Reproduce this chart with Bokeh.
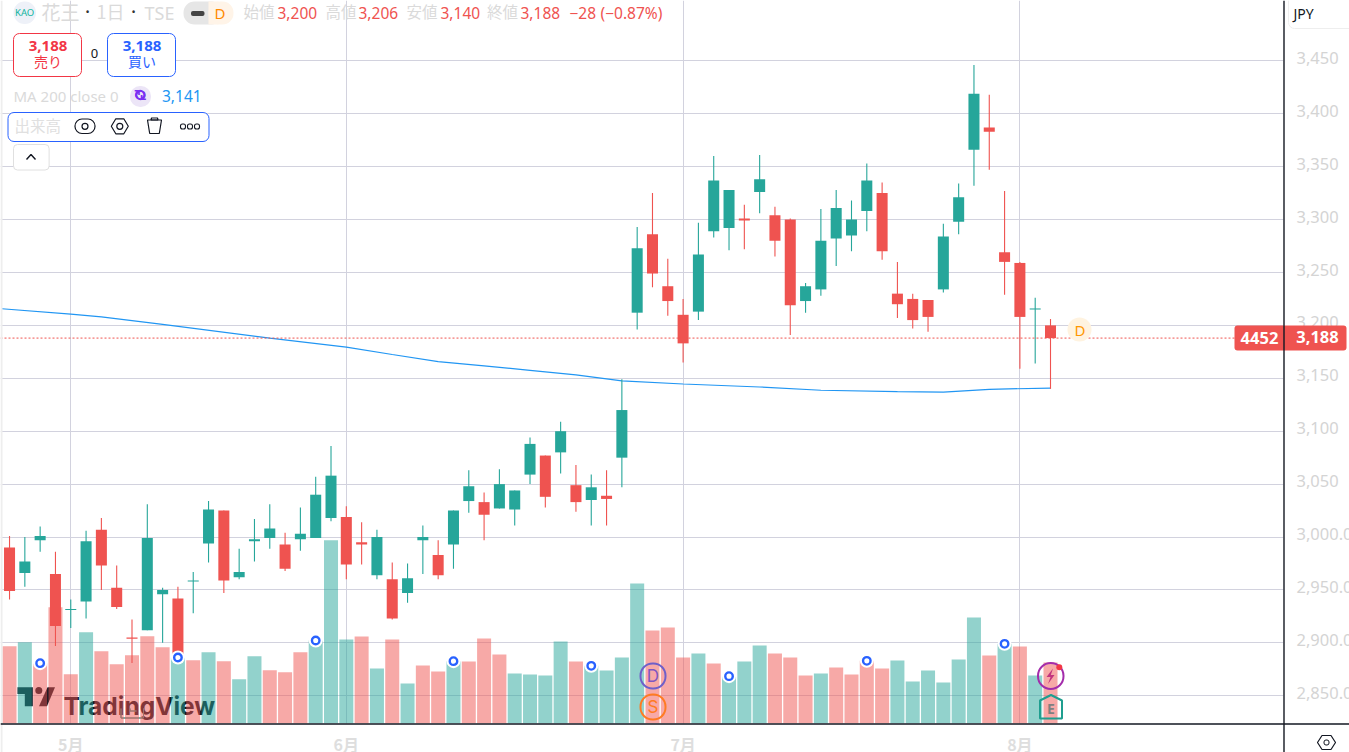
from bokeh.plotting import figure
from bokeh.embed import file_html
from bokeh.layouts import column
from bokeh.resources import INLINE
from bokeh.models import (Range1d, FixedTicker, Span, Label, BoxAnnotation,
                          PolyAnnotation, ColumnDataSource)

# ---------- data ----------
opens  = [2990,2966,2997,2965,2931,2939,3007,2952,2905,2912,2946,2942,2958,2994,3025,2962,2996,2999,2993,2998,2999,3018,
          3019,2995,2964,2960,2947,2997,2983,2993,3034,3033,3027,3026,3059,3077,3080,3049,3035,3039,3075,
          3212,3286,3237,3210,3213,3289,3292,3301,3326,3304,3300,3223,3234,3282,3285,3308,3325,3230,3225,3224,3234,3298,3366,3387,3269,3259,3215,3200]
highs  = [3001,3000,3010,2986,2941,3006,3018,2973,2922,3031,2952,2953,2967,3034,3025,2989,3017,3031,3004,3028,3057,3086,
          3029,3014,3007,2976,2975,3011,2997,3025,3063,3042,3064,3044,3094,3077,3109,3068,3059,3063,3149,
          3293,3325,3263,3225,3297,3360,3328,3314,3361,3312,3301,3240,3310,3328,3318,3353,3335,3260,3230,3224,3296,3334,3446,3418,3327,3260,3226,3206]
lows   = [2941,2953,2986,2897,2914,2923,2950,2932,2881,2912,2900,2880,2928,2976,2947,2960,2977,2989,2968,2987,2999,3015,
          2960,2974,2960,2922,2938,2965,2960,2970,3023,2997,3027,3011,3050,3028,3060,3024,3011,3011,3047,
          3196,3236,3209,3165,3205,3283,3271,3272,3306,3265,3191,3212,3228,3256,3270,3289,3262,3207,3197,3194,3231,3286,3332,3347,3229,3159,3164,3140]
closes = [2949,2977,3001,2916,2932,2996,2973,2934,2904,2999,2950,2887,2959,3026,2959,2967,2998,3008,2970,3003,3040,3058,
          2974,2993,3000,2923,2961,3000,2964,3025,3048,3021,3050,3044,3088,3038,3100,3033,3047,3036,3120,
          3273,3249,3223,3183,3267,3337,3328,3299,3338,3280,3219,3237,3280,3311,3300,3337,3270,3220,3205,3208,3284,3321,3419,3383,3260,3208,3216,3188]
volumes = [464,488,362,698,296,548,434,356,410,524,458,396,380,428,374,266,404,320,308,428,498,1100,
           504,522,330,504,240,348,312,374,372,510,414,300,294,288,492,372,346,318,396,840,558,576,396,
           420,360,284,372,468,420,396,288,300,336,294,376,330,378,252,318,246,384,636,408,478,462,288,366]
vol_dir = list("RGRRRGRRRRRGRGRGGRRRGG" "GRGRGRRGRRRGGGGRGGGGRRR" "GRGGGRRRGRRRRGGGGGGRGRGR")
ma_index = [-0.5,4,6,10,17,22,25,28,31,34,37,40,44,49,53,58,61,64,68]
ma_value = [3215.7,3210.7,3208,3201,3188,3179.5,3172.5,3165.7,3161.8,3157.5,3153.3,3147.5,3144.6,3141.8,3138.7,3137.4,3137,3139.6,3140.8]
marker_index = [2,11,20,29,38,47,56,65]
price_ticks = [2850,2900,2950,3000,3050,3100,3150,3200,3250,3300,3350,3400,3450]
price_labels = ["2,850.0","2,900.0","2,950.0","3,000.0","3,050","3,100","3,150","3,200","3,250","3,300","3,350","3,400","3,450"]
month_ticks = [4,22,44,66]
month_labels = ["5月","6月","7月","8月"]
last_price = 3188

UP, DOWN = "#26a69a", "#ef5350"
GRID = "#d2d2de"
PALE = "#dadada"
SANS = "Noto Sans"
CJK = "Noto Sans CJK JP"
W, H, FH = 1349, 752, 723
LABEL_LIFT = 2.8  # the reference's price labels sit about 3px above their gridlines

idx = list(range(len(opens)))
src = ColumnDataSource(dict(
    i=idx, o=opens, h=highs, l=lows, c=closes,
    top=[max(a, b) for a, b in zip(opens, closes)],
    bot=[min(a, b) for a, b in zip(opens, closes)],
    col=[UP if c >= o else DOWN for o, c in zip(opens, closes)],
    vol=volumes,
    vcol=[UP if d == "G" else DOWN for d in vol_dir],
))

p = figure(width=W, height=H, frame_width=1283, frame_height=FH, output_backend="svg", toolbar_location=None,
           y_axis_location="right", x_range=Range1d(-0.59, 83.22), y_range=Range1d(2823.8, 3507),
           min_border_left=0, min_border_top=0, min_border_bottom=0, min_border_right=0,
           outline_line_color=None)
p.extra_y_ranges = {"vol": Range1d(0, FH*6)}

# transparent overlay for the things that lie outside the plot frame (price tag, legends, axis edges)
q = figure(width=W, height=H, frame_width=W, frame_height=H, output_backend="svg", toolbar_location=None,
           x_axis_type=None, y_axis_type=None, x_range=Range1d(0, W), y_range=Range1d(0, H),
           min_border_left=0, min_border_top=0, min_border_bottom=0, min_border_right=0,
           outline_line_color=None, background_fill_color=None, border_fill_color=None,
           styles={"position": "absolute", "left": "0px", "top": "0px"})

ax = p.yaxis[0]
ax.ticker = FixedTicker(ticks=[t + LABEL_LIFT for t in price_ticks])
ax.major_label_overrides = {float(t + LABEL_LIFT): v for t, v in zip(price_ticks, price_labels)}
ax.major_tick_line_color = None
ax.minor_tick_line_color = None
ax.axis_line_color = None
ax.major_label_standoff = 7
ax.major_label_text_font = SANS
ax.major_label_text_font_size = "16.5px"
ax.major_label_text_color = "#d4d4d4"

xa = p.xaxis[0]
xa.ticker = FixedTicker(ticks=month_ticks)
xa.major_label_overrides = {k: v for k, v in zip(month_ticks, month_labels)}
xa.major_tick_line_color = None
xa.minor_tick_line_color = None
xa.axis_line_color = None
xa.major_label_standoff = 2
xa.major_label_text_font = CJK
xa.major_label_text_font_size = "16px"
xa.major_label_text_font_style = "bold"
xa.major_label_text_color = "#dedede"

p.xgrid.ticker = FixedTicker(ticks=month_ticks)
p.ygrid.ticker = FixedTicker(ticks=price_ticks)
p.xgrid.grid_line_color = GRID
p.ygrid.grid_line_color = GRID
p.xgrid.grid_line_width = 1
p.ygrid.grid_line_width = 1


def target(level):
    return (p, FH) if level == "underlay" else (q, H)


def box(x0, y0, x1, y1, fill=None, line=None, lw=1, r=0, fa=1.0, level="annotation"):
    f, base = target(level)
    b = BoxAnnotation(left=x0, right=x1, top=base-y0, bottom=base-y1,
                      left_units="screen", right_units="screen", top_units="screen", bottom_units="screen",
                      fill_color=fill, fill_alpha=fa if fill else 0, line_color=line, line_width=lw,
                      line_alpha=1 if line else 0, border_radius=int(round(r)), level=level, editable=False)
    f.add_layout(b)
    return b


def poly(pts, fill=None, line=None, lw=1.0, fa=1.0, level="annotation"):
    f, base = target(level)
    a = PolyAnnotation(xs=[c[0] for c in pts], ys=[base-c[1] for c in pts], xs_units="screen", ys_units="screen",
                       fill_color=fill, fill_alpha=fa if fill else 0, line_color=line, line_width=lw,
                       line_alpha=1 if line else 0, level=level)
    f.add_layout(a)
    return a


def lab(t, x, y, size=15, color=PALE, font=SANS, style="normal", align="left", base="middle", level="annotation", angle=0):
    f, b0 = target(level)
    if base == "middle":
        y -= 2.5 if font == CJK else 1
    l = Label(x=x, y=b0-y, x_units="screen", y_units="screen", text=t, text_font=font,
              text_font_size=f"{size}px", text_color=color, text_font_style=style,
              text_align=align, text_baseline=base, level=level, angle=angle)
    f.add_layout(l)
    return l


# watermark sits under the volume bars
wm = "#131722"
poly([(17, 686.7), (32.3, 686.7), (32.3, 705.7), (24.3, 705.7), (24.3, 693.5), (17, 693.5)], fill=wm, level="underlay")
box(34.8, 686.5, 41.8, 693.5, fill=wm, r=3.5, level="underlay")
poly([(47, 686.7), (54.5, 686.7), (46.5, 705.7), (38.5, 705.7)], fill=wm, level="underlay")
lab("TradingView", 63, 705.7, size=24.5, color=wm, font="Inter", style="bold", base="alphabetic", level="underlay")
poly([(120.5, 708), (120.5, 717.5), (143, 717.5), (143, 708), (143, 717.5), (120.5, 717.5)], line="#4d8f86", lw=1, level="underlay")
poly([(129.5, 708), (129.5, 710.5), (136, 710.5), (129.5, 710.5)], line="#4d8f86", lw=1, level="underlay")

p.vbar(x="i", width=0.915, bottom=0, top="vol", fill_color="vcol", line_color=None, fill_alpha=0.5,
       y_range_name="vol", source=src)
p.add_layout(Span(location=last_price, dimension="width", line_color=DOWN, line_width=1, line_dash="2 2"))
p.line(ma_index, ma_value, line_color="#2196f3", line_width=1.2)
p.segment(x0="i", x1="i", y0="l", y1="h", line_color="col", line_width=1.1, source=src)
p.vbar(x="i", width=0.72, bottom="bot", top="top", fill_color="col", line_color=None, source=src)

# news rings on top of the volume bars
rx = marker_index
ry = [volumes[k] for k in marker_index]
p.scatter(rx, ry, marker="circle", size=14, fill_color="white", line_color=None, y_range_name="vol")
p.scatter(rx, ry, marker="circle", size=7.5, fill_color="white", line_color="#2962ff", line_width=2.4, y_range_name="vol")

# left strip, axis lines
box(0, 0, 2, H, fill="#eeeeee")
box(0, 722.8, W, 724.2, fill="#131722")

# D / S / lightning / E markers
box(640, 663, 665, 688, line="#6f5fc9", lw=2, r=12.5)
lab("D", 652.5, 676.5, size=17, color="#7e57c2", font="Inter", align="center")
box(640, 694, 665, 719, line="#ff7b22", lw=2, r=12.5)
lab("S", 652.5, 707.5, size=17, color="#ff7b22", font="Inter", align="center")
box(1037.5, 662.5, 1063, 688.5, line="#a32cab", lw=2, r=13)
poly([(1052.5, 668), (1046, 676.5), (1050, 676.5), (1047.5, 683.5), (1054, 674.5), (1050.3, 674.5)], fill="#c2357f")
box(1055.8, 663.7, 1061.8, 669.7, fill="#f23645", r=3)
poly([(1039.5, 700), (1050.5, 694.5), (1061.5, 700), (1061.5, 718), (1039.5, 718)], line="#1f9e8f", lw=2)
lab("E", 1050.5, 708.5, size=14, color="#7f8080", font=SANS, style="bold", align="center")

# last price tags
box(1067, 317, 1091, 341, fill="#fff3e0", r=12)
lab("D", 1079.5, 330, size=15, color="#ff9800", align="center")
box(1234, 325, 1346, 350, fill=DOWN, r=3)
lab("4452", 1259, 338, size=16.5, color="white", style="bold", align="center")
lab("3,188", 1317, 337.5, size=16.5, color="white", style="bold", align="center")
box(1282.8, 0, 1284.2, H, fill="#131722")
box(1288, -6, 1356, 28, line="#eeeeee", r=6)
lab("JPY", 1293, 13.5, size=14, color="#131722")

# settings hexagon
hx, hy = 1326, 742
poly([(hx-9, hy), (hx-4.5, hy-7), (hx+4.5, hy-7), (hx+9, hy), (hx+4.5, hy+7), (hx-4.5, hy+7)], line="#131722", lw=1.2)
box(hx-2.5, hy-2.5, hx+2.5, hy+2.5, line="#131722", lw=1, r=2.5)

# header
box(13, 1, 35.5, 23.5, fill="#eef1f8", r=11.2)
lab("KAO", 24.2, 13, size=9.5, color="#12b5a0", align="center")
lab("花王", 41, 13, size=19, font=CJK)
lab("•", 87, 12, size=11, color="#333333", align="center")
lab("1日", 96, 13, size=18, font=CJK)
lab("•", 133, 12, size=11, color="#333333", align="center")
lab("TSE", 144, 13, size=18)
box(183, 1, 222, 24, fill="#e6e6e6", r=11)
box(208, 1, 233, 24, fill="#fff4e8", r=11)
box(208, 1, 218, 24, fill="#fff4e8")
box(190.5, 10.5, 204, 15.5, fill="#444444", r=2)
lab("D", 219.5, 13, size=15, color="#ff8a00", align="center")

RED = "#ef5350"
for t, x, c in [("始値", 243, PALE), ("3,200", 277, RED), ("高値", 325, PALE), ("3,206", 358, RED),
                ("安値", 406, PALE), ("3,140", 440, RED), ("終値", 486.5, PALE), ("3,188", 520, RED),
                ("−28", 569, RED), ("(−0.87%)", 600, RED)]:
    lab(t, x, 13, size=15.5, color=c, font=CJK if c == PALE else SANS)

# sell / buy
box(13, 33, 81, 76, fill="white", line="#f23645", r=6)
lab("3,188", 47.5, 46, size=15, color="#f23645", style="bold", align="center")
lab("売り", 47.5, 63, size=14, color="#f23645", font=CJK, align="center")
lab("0", 94, 54, size=13, color="#131722", align="center")
box(107, 33, 175, 76, fill="white", line="#2962ff", r=6)
lab("3,188", 141.5, 46, size=15, color="#2962ff", style="bold", align="center")
lab("買い", 141.5, 63, size=14, color="#2962ff", font=CJK, align="center")

# MA legend
lab("MA 200 close 0", 13, 96, size=15)
box(129.5, 85.5, 150.5, 106.5, fill="#ece5f7", r=10.5)
lab("↻", 139.7, 96, size=16, color="#7b2ff2", font="DejaVu Sans", style="bold", align="center")
lab("↻", 139.7, 95, size=16, color="#7b2ff2", font="DejaVu Sans", style="bold", align="center", angle=3.14159)
lab("3,141", 161.5, 96, size=15.5, color="#2196f3")

# volume legend
box(7.5, 112, 208.5, 141, fill="white", line="#2962ff", r=6)
lab("出来高", 14, 127, size=15.5, color="#e0e0e0", font=CJK)
box(74.5, 118.5, 94.5, 133, line="#131722", lw=1.2, r=7)
box(81.5, 122.8, 87.5, 128.8, line="#131722", lw=1.2, r=3)
hx, hy = 119.3, 125.8
poly([(hx-8.5, hy), (hx-4, hy-7.5), (hx+4, hy-7.5), (hx+8.5, hy), (hx+4, hy+7.5), (hx-4, hy+7.5)], line="#131722", lw=1.2)
box(hx-3, hy-3, hx+3, hy+3, line="#131722", lw=1.2, r=3)
poly([(147, 119.5), (161, 119.5), (158.8, 133), (149.2, 133)], line="#131722", lw=1.2)
poly([(150.5, 119.5), (151, 117.5), (157, 117.5), (157.5, 119.5)], line="#131722", lw=1.2)
for dx in (182.5, 189.5, 196.5):
    box(dx-2.5, 123.5, dx+2.5, 128.5, line="#131722", lw=1.1, r=2.5)

# collapse button
box(13, 144, 48.6, 169.5, fill="white", line="#e0e0e0", r=4)
poly([(26, 159), (30.5, 154), (35, 159), (30.5, 154)], line="#131722", lw=1.4)

open("out.html", "w").write(file_html(column(p, q), INLINE))
